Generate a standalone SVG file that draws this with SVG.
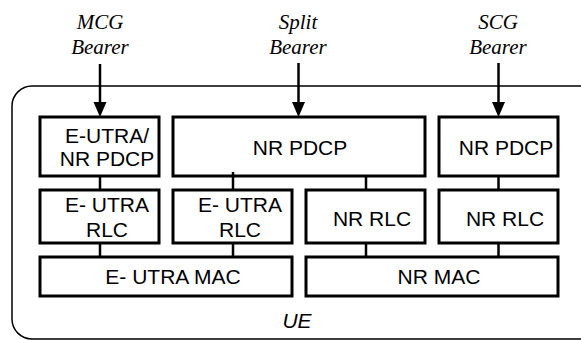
<svg xmlns="http://www.w3.org/2000/svg" width="581" height="340" viewBox="0 0 581 340">
<style>
.box{fill:#fff;stroke:#000;stroke-width:3}
.t{font-family:"Liberation Sans",Arial,sans-serif;font-size:21px;fill:#000;text-anchor:middle}
.b{font-family:"Liberation Serif","Times New Roman",serif;font-style:italic;font-size:21px;fill:#000;text-anchor:middle}
.c{stroke:#000;stroke-width:2.5;fill:none}
</style>
<defs>
<marker id="ah" viewBox="0 0 13 15" refX="6.5" refY="15" markerWidth="13" markerHeight="15" markerUnits="userSpaceOnUse" orient="auto-start-reverse">
<path d="M0,0 L13,0 L6.5,15 Z" fill="#000"/>
</marker>
</defs>
<rect id="ue" x="12" y="86" width="590" height="253" rx="20" ry="20" fill="none" stroke="#000" stroke-width="1.5"/>
<text class="t" x="297" y="328" font-style="italic">UE</text>
<g id="labels">
<text class="b" x="100" y="29">MCG</text>
<text class="b" x="100" y="54">Bearer</text>
<text class="b" x="298" y="29">Split</text>
<text class="b" x="298" y="54">Bearer</text>
<text class="b" x="498" y="29">SCG</text>
<text class="b" x="498" y="54">Bearer</text>
</g>
<g id="connectors">
<line class="c" x1="100" y1="64" x2="100" y2="102"/>
<path d="M93.5,102 L106.5,102 L100,117 Z"/>
<line class="c" x1="298.5" y1="63" x2="298.5" y2="102"/>
<path d="M292,102 L305,102 L298.5,117 Z"/>
<line class="c" x1="498.5" y1="63" x2="498.5" y2="102"/>
<path d="M492,102 L505,102 L498.5,117 Z"/>
<line class="c" x1="100" y1="176" x2="100" y2="190"/>
<line class="c" x1="233" y1="172" x2="233" y2="190"/>
<line class="c" x1="366" y1="176" x2="366" y2="190"/>
<line class="c" x1="498.5" y1="176" x2="498.5" y2="190"/>
<line class="c" x1="100" y1="243" x2="100" y2="257"/>
<line class="c" x1="233" y1="243" x2="233" y2="257"/>
<line class="c" x1="366" y1="243" x2="366" y2="257"/>
<line class="c" x1="498.5" y1="243" x2="498.5" y2="257"/>
</g>
<g id="pdcp1">
<rect class="box" x="40" y="117" width="119" height="59"/>
<text class="t" x="107" y="143">E-UTRA/</text>
<text class="t" x="107" y="166">NR PDCP</text>
</g>
<g id="pdcp-split">
<rect class="box" x="173" y="117" width="252" height="59"/>
<line class="c" x1="233" y1="172" x2="233" y2="176"/>
<text class="t" x="300" y="155">NR PDCP</text>
</g>
<g id="pdcp-scg">
<rect class="box" x="439" y="117" width="119" height="59"/>
<text class="t" x="506" y="155">NR PDCP</text>
</g>
<g id="rlc1">
<rect class="box" x="40" y="190" width="119" height="53"/>
<text class="t" x="107" y="212">E- UTRA</text>
<text class="t" x="107" y="237">RLC</text>
</g>
<g id="rlc2">
<rect class="box" x="173" y="190" width="119" height="53"/>
<text class="t" x="240" y="212">E- UTRA</text>
<text class="t" x="240" y="237">RLC</text>
</g>
<g id="rlc3">
<rect class="box" x="306" y="190" width="119" height="53"/>
<text class="t" x="372" y="226">NR RLC</text>
</g>
<g id="rlc4">
<rect class="box" x="439" y="190" width="119" height="53"/>
<text class="t" x="505" y="226">NR RLC</text>
</g>
<g id="mac1">
<rect class="box" x="40" y="257" width="252" height="39"/>
<text class="t" x="173" y="284">E- UTRA MAC</text>
</g>
<g id="mac2">
<rect class="box" x="306" y="257" width="252" height="39"/>
<text class="t" x="439" y="284">NR MAC</text>
</g>
</svg>
